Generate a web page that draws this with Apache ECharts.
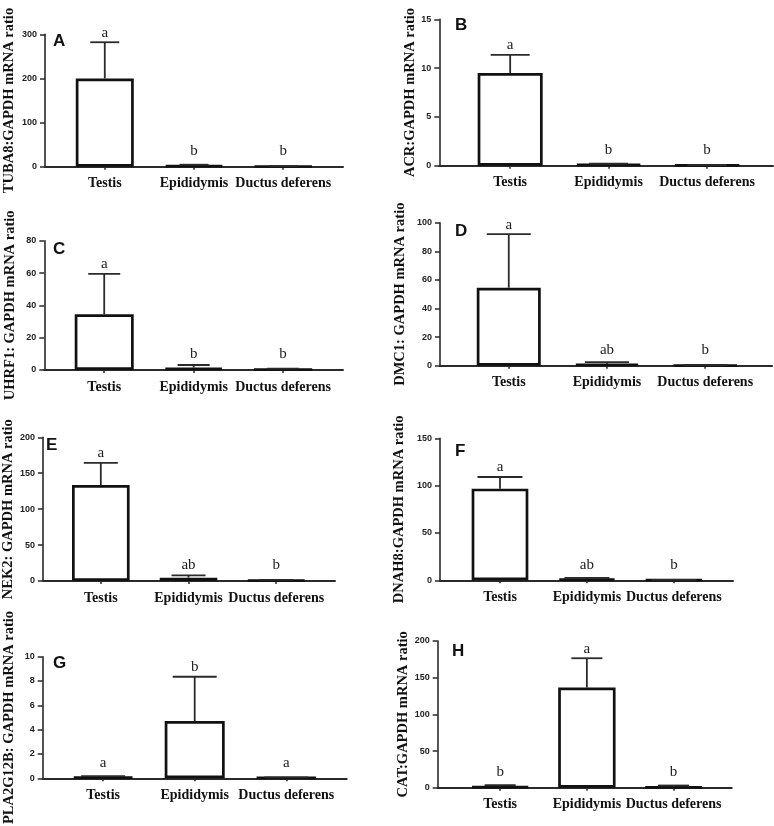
<!DOCTYPE html>
<html>
<head>
<meta charset="utf-8">
<script src="https://cdn.jsdelivr.net/npm/echarts@6/dist/echarts.min.js"></script>
<style>html,body{margin:0;padding:0;background:#fff;}#c{width:774px;height:826px;}</style>
</head>
<body>
<div id="c"></div>
<script>
// ---------- data ----------
const categories = ['Testis', 'Epididymis', 'Ductus deferens'];
const panelLetters = ['A', 'B', 'C', 'D', 'E', 'F', 'G', 'H'];
const yTitles = ['TUBA8:GAPDH mRNA ratio', 'ACR:GAPDH mRNA ratio', 'UHRF1: GAPDH mRNA ratio', 'DMC1: GAPDH mRNA ratio',
                 'NEK2: GAPDH mRNA ratio', 'DNAH8:GAPDH mRNA ratio', 'PLA2G12B: GAPDH mRNA ratio', 'CAT:GAPDH mRNA ratio'];
const yMax = [300, 15, 80, 100, 200, 150, 10, 200];
const yInterval = [100, 5, 20, 20, 50, 50, 2, 50];

const tuba8Mean = [200, 3, 1];       const tuba8Err = [82, 1.5, 0.5];     const tuba8Sig = ['a', 'b', 'b'];
const acrMean = [9.5, 0.15, 0.05];   const acrErr = [1.85, 0.05, 0.02];   const acrSig = ['a', 'b', 'b'];
const uhrf1Mean = [34.5, 1.5, 0.5];  const uhrf1Err = [25, 1.6, 0.4];     const uhrf1Sig = ['a', 'b', 'b'];
const dmc1Mean = [54.5, 1.2, 0.3];   const dmc1Err = [37.5, 1.3, 0.2];    const dmc1Sig = ['a', 'ab', 'b'];
const nek2Mean = [133.5, 4.6, 1];    const nek2Err = [31, 3.3, 0.5];      const nek2Sig = ['a', 'ab', 'b'];
const dnah8Mean = [96.8, 1.5, 0.3];  const dnah8Err = [12.3, 1.0, 0.2];   const dnah8Sig = ['a', 'ab', 'b'];
const pla2Mean = [0.1, 4.7, 0.05];   const pla2Err = [0.08, 3.65, 0.02];  const pla2Sig = ['a', 'b', 'a'];
const catMean = [1.5, 136.5, 1];     const catErr = [2, 40, 2];           const catSig = ['b', 'a', 'b'];

const means = [tuba8Mean, acrMean, uhrf1Mean, dmc1Mean, nek2Mean, dnah8Mean, pla2Mean, catMean];
const errs = [tuba8Err, acrErr, uhrf1Err, dmc1Err, nek2Err, dnah8Err, pla2Err, catErr];
const sigs = [tuba8Sig, acrSig, uhrf1Sig, dmc1Sig, nek2Sig, dnah8Sig, pla2Sig, catSig];

// ---------- layout (pixels) ----------
const layout = [
  {left: 45, right: 343, top: 34.3, zero: 166.7, xMin: -0.67, xMax: 2.67, barW: 58, capW: 29, nameGap: 28, lx: 53, ly: 43},
  {left: 439.3, right: 773, top: 19.3, zero: 165.7, xMin: -0.72, xMax: 2.67, barW: 65, capW: 39, nameGap: 20, lx: 455, ly: 27},
  {left: 44.3, right: 343, top: 240.7, zero: 370, xMin: -0.67, xMax: 2.67, barW: 59, capW: 32, nameGap: 27, lx: 53, ly: 250.7},
  {left: 440, right: 772, top: 222.7, zero: 365.7, xMin: -0.70, xMax: 2.68, barW: 64, capW: 44, nameGap: 32.5, lx: 455, ly: 233},
  {left: 42.7, right: 335, top: 437.3, zero: 581, xMin: -0.66, xMax: 2.67, barW: 57.6, capW: 34, nameGap: 26, lx: 46, ly: 446.7},
  {left: 440, right: 733, top: 438.3, zero: 580.3, xMin: -0.69, xMax: 2.68, barW: 56.7, capW: 45, nameGap: 33.5, lx: 455, ly: 453.3},
  {left: 42.7, right: 346.7, top: 656.7, zero: 786.7, xMin: -0.66, xMax: 2.66, barW: 60, capW: 44, nameGap: 26, lx: 53, ly: 665},
  {left: 437.7, right: 731.7, top: 641, zero: 787.7, xMin: -0.72, xMax: 2.67, barW: 57.4, capW: 31, nameGap: 22, lx: 452, ly: 653.3}
];

const AX = '#2a2a2a';
const serif = '"Liberation Serif", "Times New Roman", serif';
const sans = '"Liberation Sans", Arial, sans-serif';

const grids = [], xAxes = [], yAxes = [], series = [], titles = [];

function makeRender(L, letters) {
  return function (params, api) {
    const x = api.value(0), m = api.value(1), e = api.value(2);
    const pBase = api.coord([x, m]);
    const pTop = api.coord([x, m + e]);
    const pZero = api.coord([x, 0]);
    const half = L.capW / 2;
    const ty = Math.min(pTop[1] - 2, pZero[1] - 8);
    return {
      type: 'group',
      children: [
        {type: 'line', shape: {x1: pBase[0], y1: pBase[1], x2: pTop[0], y2: pTop[1]}, style: {stroke: AX, lineWidth: 1.8}},
        {type: 'line', shape: {x1: pTop[0] - half, y1: pTop[1], x2: pTop[0] + half, y2: pTop[1]}, style: {stroke: AX, lineWidth: 1.8}},
        {type: 'text', style: {text: letters[params.dataIndex], x: pTop[0], y: ty,
          align: 'center', verticalAlign: 'bottom', textAlign: 'center', textVerticalAlign: 'bottom',
          font: '15px ' + serif, fill: '#222'}}
      ]
    };
  };
}

for (let i = 0; i < 8; i++) {
  const L = layout[i];
  grids.push({left: L.left, top: L.top, width: L.right - L.left, height: L.zero - L.top, containLabel: false});
  xAxes.push({
    type: 'value', gridIndex: i, min: L.xMin, max: L.xMax,
    axisLine: {show: true, onZero: false, lineStyle: {color: AX, width: 2}},
    axisTick: {show: true, customValues: [0, 1, 2], length: 3, lineStyle: {color: AX, width: 1.5}},
    axisLabel: {show: true, customValues: [0, 1, 2], formatter: v => categories[Math.round(v)] || '',
      fontFamily: serif, fontWeight: 'bold', fontSize: 14, color: '#111', margin: 10},
    splitLine: {show: false}
  });
  yAxes.push({
    type: 'value', gridIndex: i, min: 0, max: yMax[i], interval: yInterval[i],
    axisLine: {show: true, onZero: false, lineStyle: {color: AX, width: 1.6}},
    axisTick: {show: true, length: 5, lineStyle: {color: AX, width: 1.5}},
    axisLabel: {fontFamily: sans, fontWeight: 'bold', fontSize: 9, color: '#222', margin: 8},
    splitLine: {show: false},
    name: yTitles[i], nameLocation: 'middle', nameRotate: 90, nameGap: L.nameGap,
    nameTextStyle: {fontFamily: serif, fontWeight: 'bold', fontSize: 14.5, color: '#111'}
  });
  series.push({
    type: 'bar', xAxisIndex: i, yAxisIndex: i, barWidth: L.barW,
    data: means[i].map((m, k) => [k, m]),
    itemStyle: {color: '#fff', borderColor: '#111', borderWidth: 2.7},
    silent: true, animation: false
  });
  series.push({
    type: 'custom', xAxisIndex: i, yAxisIndex: i, clip: false,
    data: means[i].map((m, k) => [k, m, errs[i][k]]),
    encode: {x: 0, y: 1},
    renderItem: makeRender(L, sigs[i]),
    silent: true, animation: false, z: 5
  });
  titles.push({
    text: panelLetters[i], left: L.lx, top: L.ly - 10, padding: 0,
    textStyle: {fontFamily: sans, fontWeight: 'bold', fontSize: 17, color: '#111'}
  });
}

const chart = echarts.init(document.getElementById('c'), null, {renderer: 'canvas'});
chart.setOption({
  animation: false,
  backgroundColor: '#fff',
  title: titles,
  grid: grids,
  xAxis: xAxes,
  yAxis: yAxes,
  series: series
});
</script>
</body>
</html>
